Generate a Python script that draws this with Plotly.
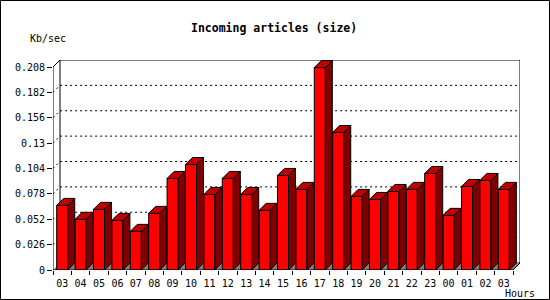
import plotly.graph_objects as go

# ---- data ----
hours = ["03", "04", "05", "06", "07", "08", "09", "10", "11", "12", "13", "14", "15",
         "16", "17", "18", "19", "20", "21", "22", "23", "00", "01", "02", "03"]
values = [0.0662, 0.0519, 0.0621, 0.0508, 0.0396, 0.0580, 0.0938, 0.1081, 0.0774,
          0.0938, 0.0774, 0.0611, 0.0969, 0.0826, 0.2074, 0.1409, 0.0754, 0.0723,
          0.0805, 0.0826, 0.0989, 0.0560, 0.0856, 0.0918, 0.0826]
y_ticks = [0, 0.026, 0.052, 0.078, 0.104, 0.13, 0.156, 0.182, 0.208]
y_tick_text = ["0", "0.026", "0.052", "0.078", "0.104", "0.13", "0.156", "0.182", "0.208"]
title_text = "Incoming articles (size)"
y_title = "Kb/sec"
x_title = "Hours"

# ---- geometry ----
W, H = 550, 300
L, R, T, B = 53, 30, 60, 30
PW, PH = W - L - R, H - T - B
DEPTH = 7                      # px of 3D depth
n = len(values)
front_w_px = PW - DEPTH
front_h_px = PH - DEPTH
ymax = y_ticks[-1]
dx = DEPTH * n / front_w_px
dy = DEPTH * ymax / front_h_px
hw = 0.3                       # half width of bar front face
xs = list(range(n))
x0, x1 = -0.5, n - 0.5

FONT = "DejaVu Sans Mono"

fig = go.Figure()

# front faces
fig.add_trace(go.Bar(x=xs, y=values, width=2 * hw, marker=dict(color="#FF0000",
                     line=dict(color="black", width=1)), hoverinfo="skip"))

# side and top faces
sx, sy, tx, ty = [], [], [], []
for i, v in zip(xs, values):
    sx += [i + hw, i + hw + dx, i + hw + dx, i + hw, i + hw, None]
    sy += [0, dy, v + dy, v, 0, None]
    tx += [i - hw, i + hw, i + hw + dx, i - hw + dx, i - hw, None]
    ty += [v, v, v + dy, v + dy, v, None]
fig.add_trace(go.Scatter(x=sx, y=sy, mode="lines", fill="toself", fillcolor="#800000",
                         line=dict(color="black", width=1), hoverinfo="skip", cliponaxis=False))
fig.add_trace(go.Scatter(x=tx, y=ty, mode="lines", fill="toself", fillcolor="#C00000",
                         line=dict(color="black", width=1), hoverinfo="skip", cliponaxis=False))

shapes = []
# back wall
shapes.append(dict(type="rect", xref="x", yref="y", x0=x0 + dx, x1=x1 + dx, y0=dy, y1=ymax + dy,
                   fillcolor="white", line=dict(color="black", width=1), layer="below"))
# floor
shapes.append(dict(type="path", xref="x", yref="y",
                   path=f"M{x0},0 L{x1},0 L{x1+dx},{dy} L{x0+dx},{dy} Z",
                   fillcolor="#808080", line=dict(width=0), layer="below"))
# grid lines (dotted) on back wall plus left wall diagonal
for t in y_ticks[1:-1]:
    shapes.append(dict(type="path", xref="x", yref="y",
                       path=f"M{x0},{t} L{x0+dx},{t+dy} L{x1+dx},{t+dy}",
                       line=dict(color="black", width=1, dash="2px,3px"), layer="below"))
# frame lines
shapes.append(dict(type="line", xref="x", yref="y", x0=x0, x1=x0, y0=0, y1=ymax,
                   line=dict(color="black", width=1)))
shapes.append(dict(type="line", xref="x", yref="y", x0=x0, x1=x0 + dx, y0=ymax, y1=ymax + dy,
                   line=dict(color="black", width=1)))
shapes.append(dict(type="line", xref="x", yref="y", x0=x0, x1=x1, y0=0, y1=0,
                   line=dict(color="black", width=1)))
shapes.append(dict(type="line", xref="x", yref="y", x0=x1, x1=x1 + dx, y0=0, y1=dy,
                   line=dict(color="black", width=1)))
# outer border of the image
shapes.append(dict(type="rect", xref="paper", yref="paper",
                   x0=(0.5 - L) / PW, x1=(W - 0.5 - L) / PW,
                   y0=(PH - (H - 0.5 - T)) / PH, y1=(PH + T - 0.5) / PH,
                   line=dict(color="black", width=1), fillcolor="rgba(0,0,0,0)"))


def px_to_paper(px, py):
    return (px - L) / PW, (H - B - py) / PH


annotations = []
ax, ay = px_to_paper(274, 28)
annotations.append(dict(text=f"<b>{title_text}</b>", x=ax, y=ay, xref="paper", yref="paper",
                        showarrow=False, xanchor="center", yanchor="middle",
                        font=dict(family=FONT, size=11.5, color="black")))
ax, ay = px_to_paper(47.5, 38.6)
annotations.append(dict(text=y_title, x=ax, y=ay, xref="paper", yref="paper",
                        showarrow=False, xanchor="center", yanchor="middle",
                        font=dict(family=FONT, size=10, color="black")))
ax, ay = px_to_paper(519.5, 293.5)
annotations.append(dict(text=x_title, x=ax, y=ay, xref="paper", yref="paper",
                        showarrow=False, xanchor="center", yanchor="middle",
                        font=dict(family=FONT, size=10, color="black")))

fig.update_layout(
    width=W, height=H, margin=dict(l=L, r=R, t=T, b=B, pad=0),
    paper_bgcolor="white", plot_bgcolor="white", showlegend=False,
    shapes=shapes, annotations=annotations, barmode="overlay",
    xaxis=dict(range=[x0, x1 + dx], tickmode="array", tickvals=xs, ticktext=hours,
               ticks="outside", ticklen=4, tickcolor="rgba(0,0,0,0)",
               showgrid=False, zeroline=False, showline=False, fixedrange=True,
               tickfont=dict(family=FONT, size=10, color="black"),
               minor=dict(tickmode="array", tickvals=[i - 0.5 for i in range(n + 1)],
                          ticks="outside", ticklen=4, tickcolor="black", tickwidth=1,
                          showgrid=False)),
    yaxis=dict(range=[0, ymax + dy], tickmode="array", tickvals=y_ticks, ticktext=y_tick_text,
               ticks="outside", ticklen=5, tickcolor="black", tickwidth=1,
               showgrid=False, zeroline=False, showline=False, fixedrange=True,
               tickfont=dict(family=FONT, size=10, color="black")),
)

fig.write_html("out.html")
